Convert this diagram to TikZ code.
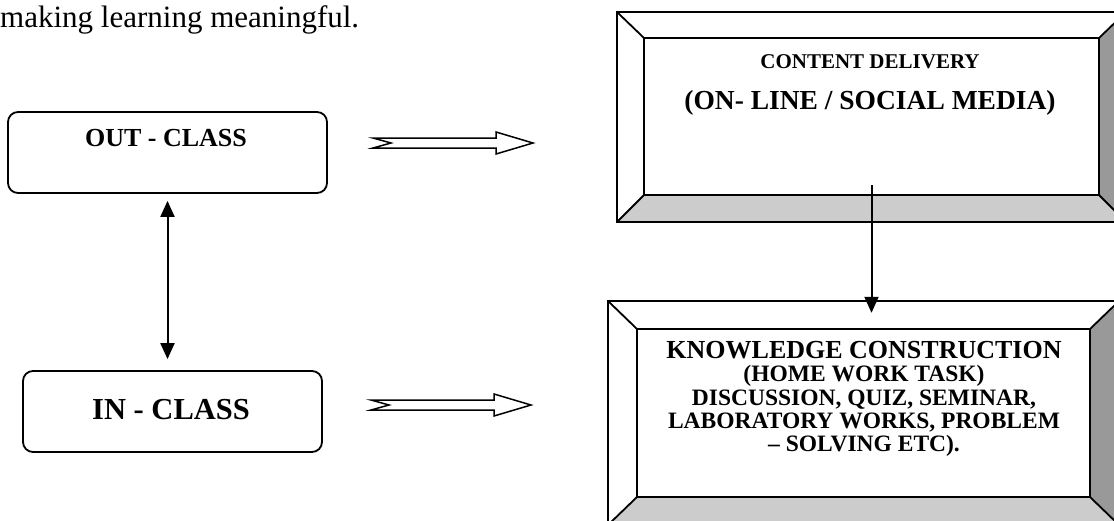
\documentclass[tikz,border=0pt]{standalone}
\usepackage{fontspec}
\setmainfont{Liberation Serif}
\usetikzlibrary{arrows.meta,calc}

\tikzset{
  frame/.style={line width=1.8pt, line join=miter},
  lowface/.style={fill=black!20},
  sideface/.style={fill=black!40},
  roundbox/.style={draw, line width=1.8pt, rounded corners=10pt, inner sep=0pt},
  label/.style={inner sep=0pt, font=\bfseries},
  link/.style={line width=2pt, {Triangle[length=16pt,width=14pt]}-{Triangle[length=16pt,width=14pt]}},
  feed/.style={line width=2pt, -{Triangle[length=16pt,width=14pt]}},
  fatarrow/.pic={
    \draw[line width=1.5pt, line join=miter, fill=white]
      (0,-5) -- (123,-5) -- (123,-11) -- (160,0) -- (123,11) -- (123,5)
      -- (0,5) -- (18,0) -- cycle;
  }
}

% bevelled panel: outer x1 y1 x2 y2, inner x1 y1 x2 y2
\newcommand\bevelpanel[8]{%
  \fill[lowface] (#1,#4) -- (#5,#8) -- (#7,#8) -- (#3,#4) -- cycle;
  \fill[sideface] (#7,#6) -- (#3,#2) -- (#3,#4) -- (#7,#8) -- cycle;
  \draw[frame] (#1,#2) rectangle (#3,#4);
  \draw[frame] (#5,#6) rectangle (#7,#8);
  \draw[frame] (#1,#2) -- (#5,#6) (#3,#2) -- (#7,#6)
               (#1,#4) -- (#5,#8) (#3,#4) -- (#7,#8);
}

\begin{document}
\begin{tikzpicture}[x=1pt,y=-1pt]
\useasboundingbox (0,0) rectangle (1114,520);
\clip (0,0) rectangle (1114,520);

% running text above the chart
\node[inner sep=0pt, anchor=base west, font=\fontsize{31}{37}\selectfont]
  (lead) at (0,27) {making learning meaningful.};

% left column
\node[roundbox, minimum width=319pt, minimum height=81pt] (out) at (167.5,152.5) {};
\node[label, font=\bfseries\fontsize{26}{30}\selectfont] (outtxt) at (166,138) {OUT - CLASS};

\node[roundbox, minimum width=299pt, minimum height=81pt] (in) at (172.5,411.5) {};
\node[label, font=\bfseries\fontsize{30.5}{36}\selectfont] (intxt) at (171,410) {IN - CLASS};

\draw[link] ([yshift=-7pt]out.south) -- ($(out.south |- in.north)+(0,-11)$);

% fat arrows towards the panels
\pic at (373,143) {fatarrow};
\pic at (371,405) {fatarrow};

% content delivery panel
\bevelpanel{617}{12}{1126}{222}{644}{38}{1099}{195}
\node[minimum width=455pt, minimum height=157pt, inner sep=0pt] (cd) at (871.5,116.5) {};
\node[label, font=\bfseries\fontsize{21}{25}\selectfont] (cdtop) at (870,62) {CONTENT DELIVERY};
\node[label, font=\bfseries\fontsize{27.5}{32}\selectfont] (cdsub) at (870,103) {(ON- LINE / SOCIAL MEDIA)};

% knowledge construction panel
\bevelpanel{608}{301}{1119}{525}{637}{329}{1090}{497}
\node[minimum width=511pt, minimum height=224pt, inner sep=0pt] (kcout) at (863.5,413) {};
\node[label, align=center, font=\bfseries\fontsize{23.5}{23.3}\selectfont] (kc) at (864,399)
  {{\fontsize{26}{23.3}\selectfont KNOWLEDGE CONSTRUCTION}\\
   (HOME WORK TASK)\\
   DISCUSSION, QUIZ, SEMINAR,\\
   LABORATORY WORKS, PROBLEM\\
   – SOLVING ETC).};

\draw[feed] ([yshift=10pt]cd.south) -- ($(cd.south |- kcout.north)+(0,12)$);
\end{tikzpicture}
\end{document}
